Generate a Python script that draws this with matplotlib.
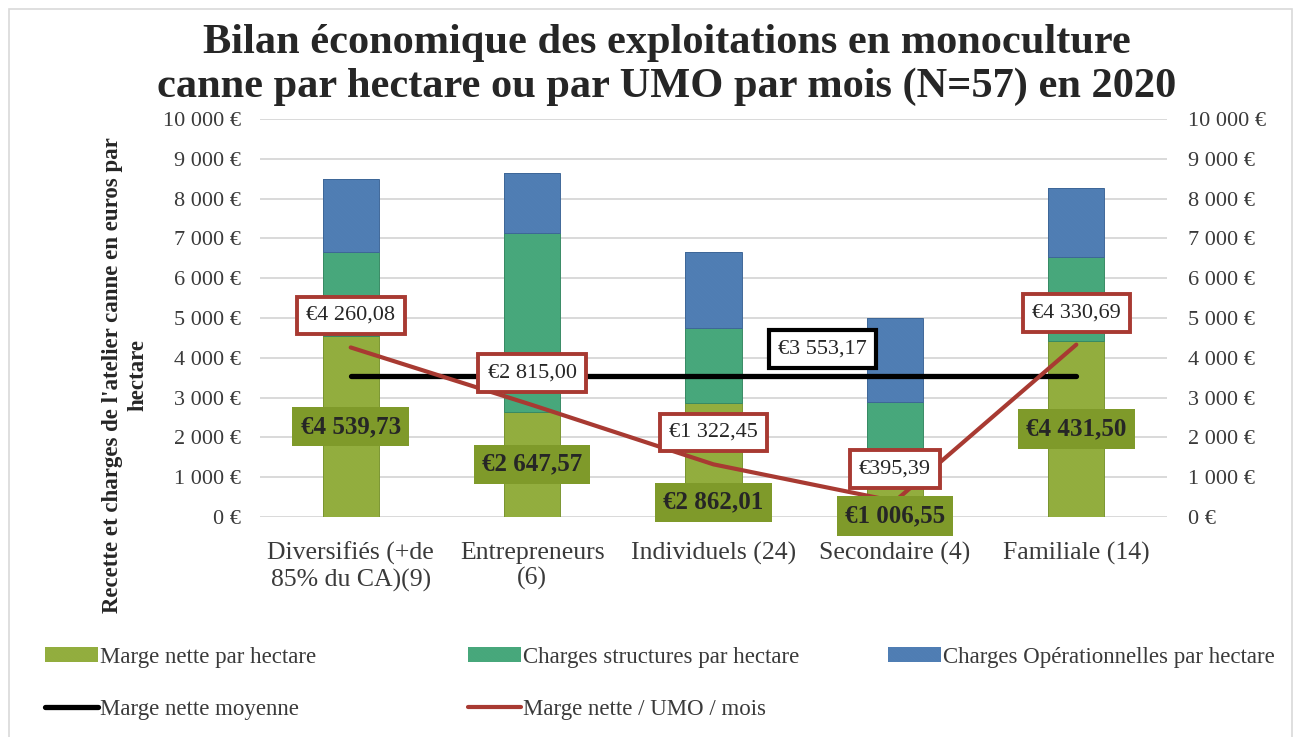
import numpy as np
import matplotlib
matplotlib.use("Agg")
import matplotlib.pyplot as plt
from matplotlib.patches import Rectangle, Patch
from matplotlib.lines import Line2D

# ---------------- data ----------------
categories = ["Diversifiés (+de\n85% du CA)(9)", "Entrepreneurs\n(6)",
              "Individuels (24)", "Secondaire (4)", "Familiale (14)"]
marge_nette = [4539.73, 2647.57, 2862.01, 1006.55, 4431.50]
charges_structures = [2126, 4480, 1878, 1875, 2109]
charges_operationnelles = [1826, 1507, 1926, 2110, 1718]
marge_moyenne = 3553.17
marge_umo_mois = [4260.08, 2815.00, 1322.45, 395.39, 4330.69]
y_ticks = list(range(0, 10001, 1000))

# label placement (positions only)
marge_label_pos = [2270, 1324, 370, 25, 2216]
moyenne_label_x = 2.6

FONT = ["Liberation Serif", "DejaVu Serif"]
plt.rcParams["font.family"] = FONT
plt.rcParams["hatch.linewidth"] = 1.6

W, H = 1295, 737
fig = plt.figure(figsize=(W / 100, H / 100), dpi=100)
ax = fig.add_axes([260 / W, 1 - 517 / H, (1167 - 260) / W, (517 - 119) / H])

def fmt_eur(v, dec=True):
    if dec:
        s = f"{v:,.2f}".replace(",", " ").replace(".", ",")
    else:
        s = f"{v:,.0f}".replace(",", " ")
    return s

x = np.arange(len(categories))
bw = 0.31
HATCH = "\\" * 10
col_y, str_y, edg_y = "#9cb746", "#92ad3e", "#7a9530"
col_t, str_t, edg_t = "#50b285", "#47a77b", "#378a64"
col_b, str_b, edg_b = "#5989bf", "#4f7db3", "#3e6798"

bottoms2 = np.array(marge_nette)
bottoms3 = bottoms2 + np.array(charges_structures)
for vals, bot, c, s, e in [(marge_nette, 0, col_y, str_y, edg_y),
                           (charges_structures, bottoms2, col_t, str_t, edg_t),
                           (charges_operationnelles, bottoms3, col_b, str_b, edg_b)]:
    ax.bar(x, vals, bw, bottom=bot, color=c, edgecolor=s, hatch=HATCH,
           linewidth=0, zorder=2)
    ax.bar(x, vals, bw, bottom=bot, fill=False, edgecolor=e, linewidth=0.7, zorder=2)

ax.plot(x, [marge_moyenne] * len(x), color="black", lw=3.8,
        solid_capstyle="round", zorder=4)
ax.plot(x, marge_umo_mois, color="#a83a32", lw=3.0, solid_capstyle="round", zorder=5)

ax.set_xlim(-0.5, len(x) - 0.5)
ax.set_ylim(0, 10000)
ax.set_yticks(y_ticks)
ax.set_yticklabels([fmt_eur(v, False) + " €" for v in y_ticks])
ax.grid(axis="y", color="#d9d9d9", lw=1.4, zorder=0)
ax.set_axisbelow(True)
for sp in ax.spines.values():
    sp.set_visible(False)
ax.tick_params(axis="y", length=0, pad=14, labelsize=16, labelcolor="#3a3a3a")
ax.set_xticks(x)
ax.set_xticklabels(categories, fontsize=18.5, color="#3a3a3a", linespacing=1.18)
ax.tick_params(axis="x", length=0, pad=18)

ax2 = ax.twinx()
ax2.set_ylim(0, 10000)
ax2.set_yticks(y_ticks)
ax2.set_yticklabels([fmt_eur(v, False) + " €" for v in y_ticks])
ax2.tick_params(axis="y", length=0, pad=15, labelsize=16, labelcolor="#3a3a3a")
for sp in ax2.spines.values():
    sp.set_visible(False)

# labels: marge nette
for xi, v, p in zip(x, marge_nette, marge_label_pos):
    ax.text(xi, p, "€" + fmt_eur(v), ha="center", va="center", fontsize=18,
            weight="bold", color="#262626", zorder=8,
            bbox=dict(boxstyle="square,pad=0.33", fc="#7f9a2a", ec="none"))

# labels: marge / UMO / mois
for xi, v in zip(x, marge_umo_mois):
    ax.annotate("€" + fmt_eur(v), (xi, v), xytext=(0, 23), textcoords="offset points",
                ha="center", va="center", fontsize=16, color="#262626", zorder=9,
                bbox=dict(boxstyle="square,pad=0.42", fc="white", ec="#a83a32", lw=2.8))

# label: moyenne
ax.annotate("€" + fmt_eur(marge_moyenne), (moyenne_label_x, marge_moyenne),
            xytext=(0, 19), textcoords="offset points", ha="center", va="center",
            fontsize=16, color="#262626", zorder=9,
            bbox=dict(boxstyle="square,pad=0.42", fc="white", ec="black", lw=3.0))

# title
fig.text(667 / W, 1 - 65 / H,
         "Bilan économique des exploitations en monoculture\n"
         "canne par hectare ou par UMO par mois (N=57) en 2020",
         ha="center", va="center", fontsize=30.5, weight="bold", color="#262626",
         linespacing=1.18)

# y label
fig.text(125 / W, 1 - 375 / H,
         "Recette et charges de l'atelier canne en euros par\nhectare",
         ha="center", va="center", rotation=90, fontsize=16.5, weight="bold",
         color="#262626", multialignment="center", linespacing=1.3)

# legend (manual placement)
leg_items = [
    (Patch(facecolor=col_y, edgecolor=str_y, hatch=HATCH, lw=0), "Marge nette par hectare", 45, 657),
    (Patch(facecolor=col_t, edgecolor=str_t, hatch=HATCH, lw=0), "Charges structures par hectare", 468, 657),
    (Patch(facecolor=col_b, edgecolor=str_b, hatch=HATCH, lw=0), "Charges Opérationnelles par hectare", 888, 657),
    (Line2D([], [], color="black", lw=3.8, solid_capstyle="round"), "Marge nette moyenne", 45, 709),
    (Line2D([], [], color="#a83a32", lw=3.0, solid_capstyle="round"), "Marge nette / UMO / mois", 468, 709),
]
for h, lab, px, py in leg_items:
    fig.legend([h], [lab], loc="center left", bbox_to_anchor=(px / W, 1 - py / H),
               frameon=False, fontsize=16.5, handlelength=2.3, handleheight=0.6,
               handletextpad=0.1, borderpad=0, borderaxespad=0,
               labelcolor="#3a3a3a")

# chart border
fig.patches.append(Rectangle((9 / W, -0.01), (1292 - 9) / W, 1 - 9 / H + 0.01,
                             transform=fig.transFigure, fill=False,
                             ec="#d9d9d9", lw=1.2))

fig.savefig("out.png", dpi=100)
